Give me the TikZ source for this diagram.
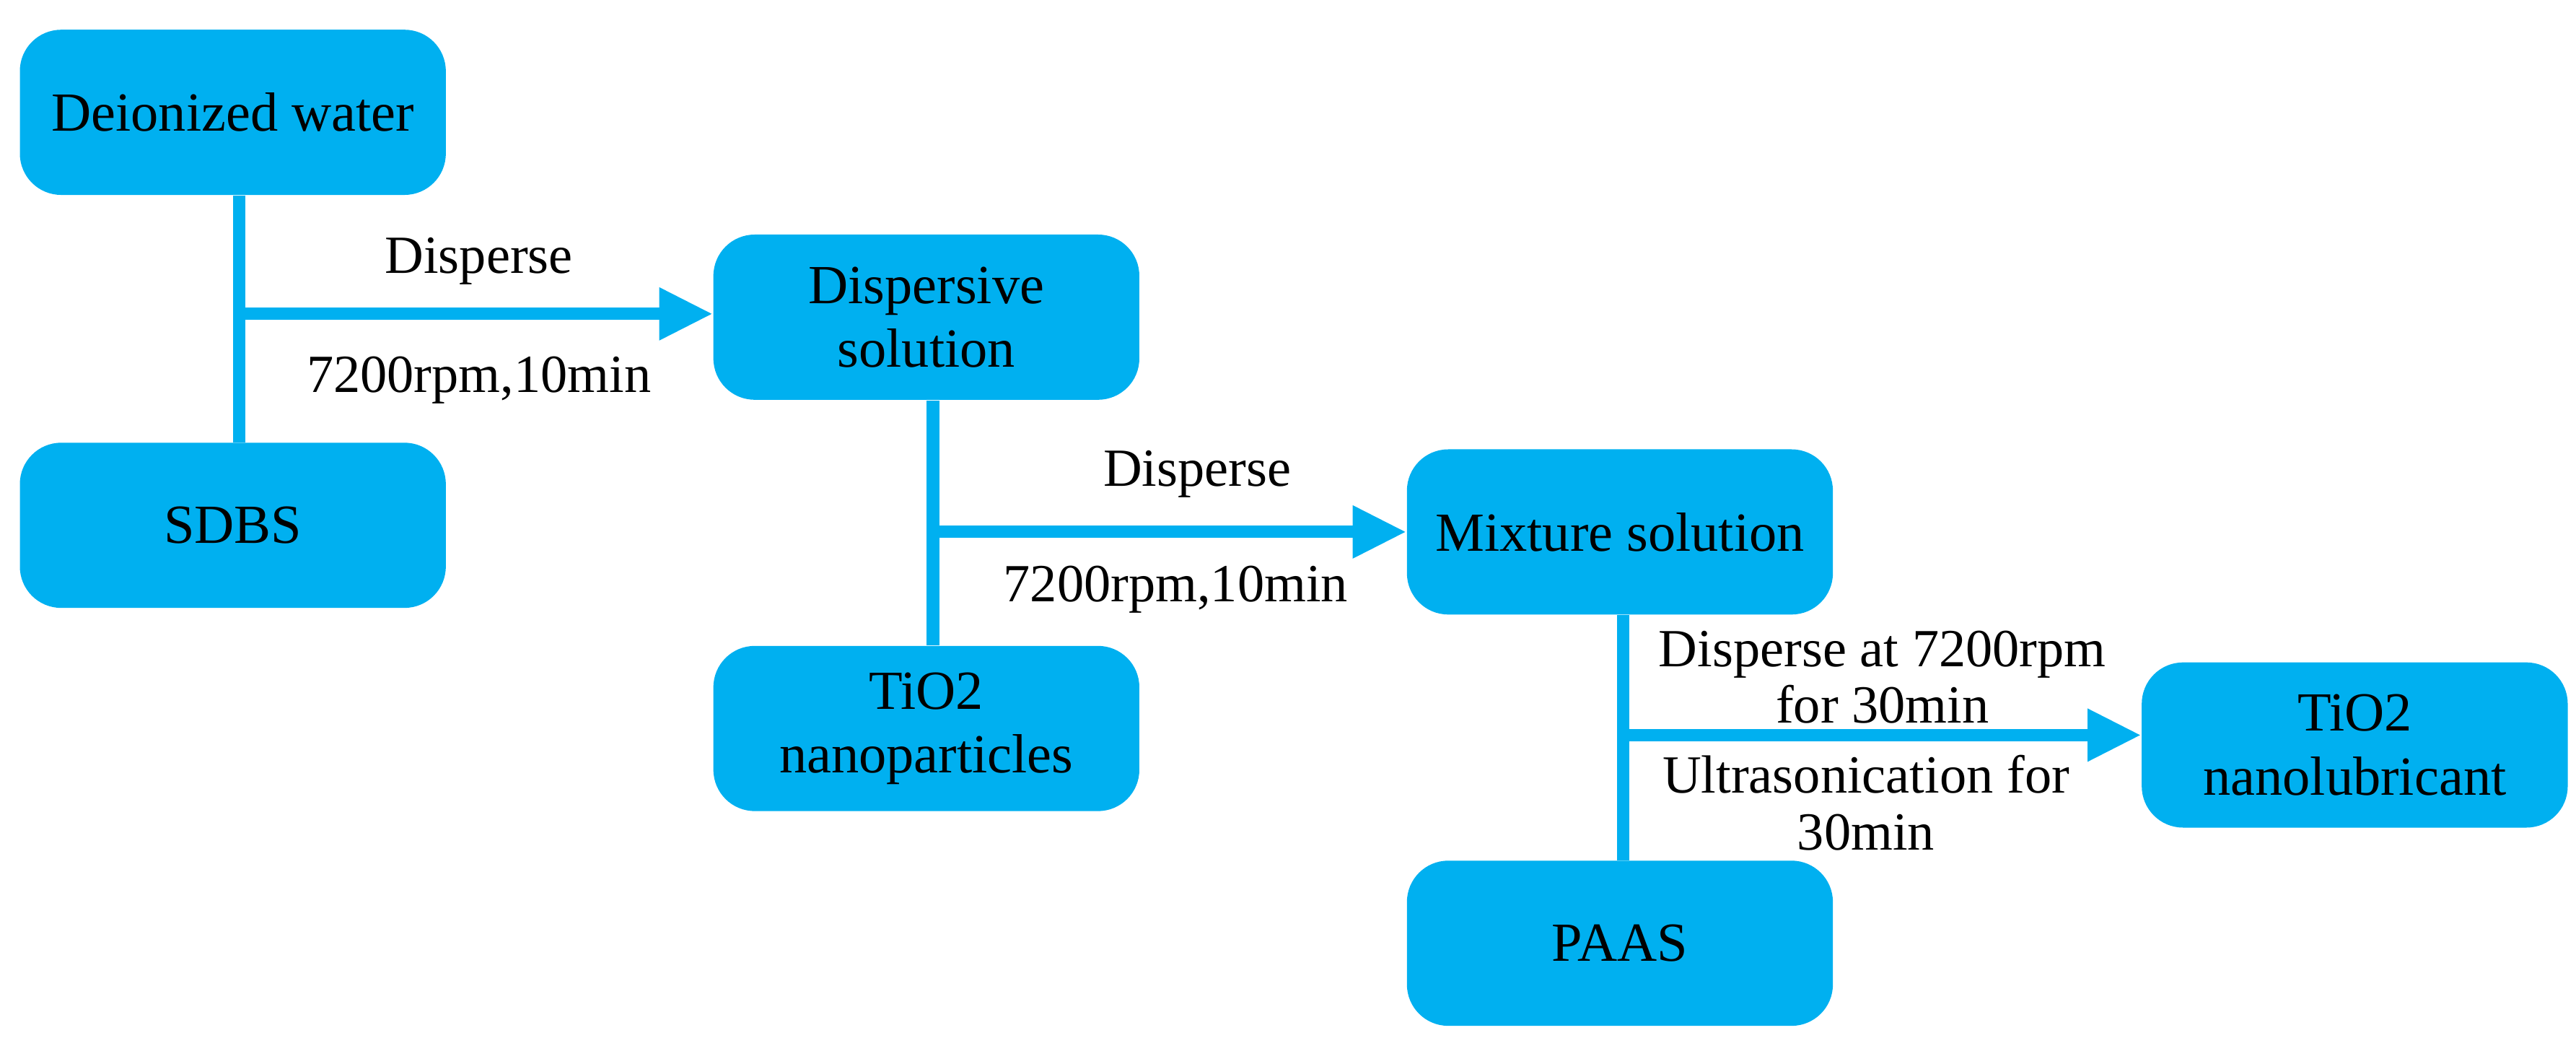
\documentclass[tikz,border=0pt]{standalone}
\usepackage{fontspec}
\setmainfont{Liberation Serif}
\usetikzlibrary{arrows.meta}
\definecolor{bx}{RGB}{0,176,240}
\begin{document}
\begin{tikzpicture}[x=0.02cm,y=-0.02cm,
 box/.style={fill=bx,draw=none,rounded corners=0.5cm,minimum width=5.16cm,minimum height=2cm,align=center,font=\fontsize{19}{22}\selectfont},
 ln/.style={draw=bx,line width=0.15cm},
 ar/.style={ln,-{Triangle[length=0.65cm,width=0.6cm]}},
 lb/.style={font=\fontsize{18.5}{19.5}\selectfont,align=center}]
\useasboundingbox (0,0) rectangle (1560,636);
\node[box] (dw) at (141,68) {Deionized water};
\node[box] (sd) at (141,318) {SDBS};
\node[box] (ds) at (561,192) {Dispersive\\solution};
\node[box] (ti) at (561,441) {TiO2\\nanoparticles};
\node[box] (mx) at (981,322) {Mixture solution};
\node[box] (pa) at (981,571) {PAAS};
\node[box] (nl) at (1426,451) {TiO2\\nanolubricant};
\coordinate (j1) at (145,190);
\coordinate (j2) at (565,322);
\coordinate (j3) at (983,445);
\draw[ln] (dw.south -| j1) -- (sd.north -| j1);
\draw[ar] (j1) -- (j1 -| ds.west);
\draw[ln] (ds.south -| j2) -- (ti.north -| j2);
\draw[ar] (j2) -- (j2 -| mx.west);
\draw[ln] (mx.south -| j3) -- (pa.north -| j3);
\draw[ar] (j3) -- (j3 -| nl.west);
\node[lb] (l1) at (290,158) {Disperse};
\node[lb] (l2) at (290,230) {7200rpm,10min};
\node[lb] (l3) at (725,287) {Disperse};
\node[lb] (l4) at (712,357) {7200rpm,10min};
\node[lb] (l5) at (1140,410) {Disperse at 7200rpm\\for 30min};
\node[lb] (l6) at (1130,486) {Ultrasonication for\\30min};
\end{tikzpicture}
\end{document}
